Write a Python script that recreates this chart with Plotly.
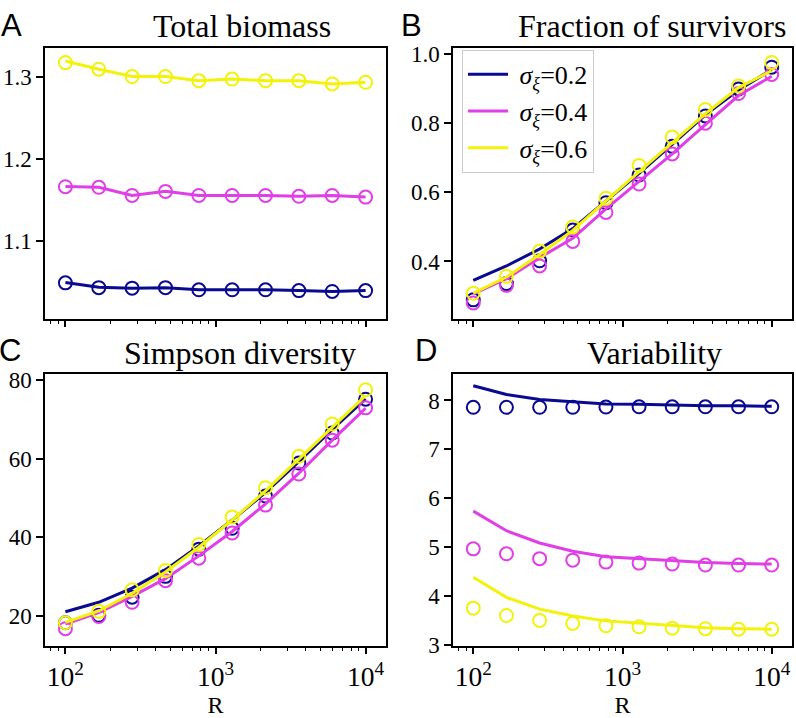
import numpy as np
import plotly.graph_objects as go

R = [100, 166.8, 278.3, 464.2, 774.3, 1291.5, 2154.4, 3593.8, 5994.8, 10000]
sigmas = ["0.2", "0.4", "0.6"]
colors = ["#0a0a90", "#e03ee6", "#f2f20a"]

# Panel A: Total biomass (points, theory lines)
biomass_pts = [
    [1.0495, 1.0436, 1.043, 1.0436, 1.041, 1.041, 1.041, 1.040, 1.039, 1.040],
    [1.1667, 1.166, 1.156, 1.161, 1.156, 1.156, 1.156, 1.155, 1.156, 1.154],
    [1.318, 1.310, 1.301, 1.301, 1.296, 1.298, 1.296, 1.296, 1.292, 1.294],
]
biomass_line = [
    [1.050, 1.044, 1.043, 1.0435, 1.041, 1.041, 1.041, 1.040, 1.039, 1.040],
    [1.167, 1.166, 1.156, 1.161, 1.156, 1.156, 1.156, 1.155, 1.156, 1.154],
    [1.320, 1.310, 1.301, 1.301, 1.296, 1.298, 1.296, 1.296, 1.292, 1.294],
]
# Panel B: Fraction of survivors
surv_pts = [
    [0.289, 0.336, 0.402, 0.491, 0.570, 0.650, 0.733, 0.821, 0.899, 0.962],
    [0.280, 0.331, 0.387, 0.458, 0.542, 0.624, 0.711, 0.800, 0.886, 0.941],
    [0.308, 0.357, 0.430, 0.500, 0.583, 0.678, 0.760, 0.840, 0.908, 0.976],
]
surv_line = [
    [0.345, 0.387, 0.436, 0.495, 0.575, 0.655, 0.739, 0.824, 0.896, 0.955],
    [0.306, 0.350, 0.411, 0.467, 0.552, 0.631, 0.711, 0.796, 0.880, 0.936],
    [0.308, 0.355, 0.420, 0.490, 0.575, 0.660, 0.744, 0.828, 0.903, 0.952],
]
# Panel C: Simpson diversity
simp_pts = [
    [18.3, 20.2, 24.8, 30.1, 37.0, 42.3, 50.5, 58.9, 66.5, 75.1],
    [16.8, 19.9, 23.5, 29.0, 34.7, 41.1, 48.2, 56.1, 64.7, 72.9],
    [18.3, 21.2, 26.7, 31.6, 38.2, 45.2, 52.6, 60.6, 68.8, 77.5],
]
simp_line = [
    [21.1, 23.5, 27.1, 31.8, 37.8, 44.4, 51.4, 59.2, 67.4, 75.2],
    [18.0, 20.9, 25.0, 29.5, 35.3, 41.5, 48.5, 56.3, 64.7, 72.8],
    [18.4, 21.3, 25.8, 31.2, 37.5, 44.4, 51.8, 59.8, 68.0, 76.0],
]
# Panel D: Variability
var_pts = [
    [7.86, 7.86, 7.86, 7.86, 7.865, 7.87, 7.87, 7.87, 7.87, 7.87],
    [4.97, 4.87, 4.77, 4.74, 4.70, 4.68, 4.66, 4.64, 4.64, 4.64],
    [3.76, 3.61, 3.51, 3.45, 3.40, 3.38, 3.35, 3.34, 3.33, 3.33],
]
var_line = [
    [8.30, 8.12, 8.02, 7.97, 7.93, 7.92, 7.90, 7.89, 7.89, 7.88],
    [5.74, 5.34, 5.09, 4.92, 4.81, 4.77, 4.72, 4.69, 4.67, 4.66],
    [4.39, 3.98, 3.74, 3.60, 3.50, 3.45, 3.40, 3.36, 3.34, 3.33],
]

titles = ["Total biomass", "Fraction of survivors", "Simpson diversity", "Variability"]
letters = ["A", "B", "C", "D"]
panels = [(biomass_pts, biomass_line), (surv_pts, surv_line),
          (simp_pts, simp_line), (var_pts, var_line)]
yranges = [[1.006, 1.336], [0.235, 1.018], [12.5, 81.5], [2.995, 8.54]]
ytickvals = [[1.1, 1.2, 1.3], [0.4, 0.6, 0.8, 1.0], [20, 40, 60, 80], [3, 4, 5, 6, 7, 8]]
yformats = [".1f", ".1f", "d", "d"]

W, H = 796, 718
boxes = [  # left, right, top, bottom in px
    (45, 386, 43, 321),
    (453, 792, 43, 321),
    (45, 386, 378, 657),
    (453, 792, 378, 657),
]

SERIF = "Liberation Serif"
fig = go.Figure()
layout = dict(width=W, height=H, margin=dict(l=0, r=0, t=0, b=0),
              paper_bgcolor="white", plot_bgcolor="white", autosize=False,
              font=dict(family=SERIF, size=22, color="black"))

for i, (pts, lines) in enumerate(panels):
    xa = "x" if i == 0 else f"x{i+1}"
    ya = "y" if i == 0 else f"y{i+1}"
    for k in range(3):
        fig.add_trace(go.Scatter(
            x=R, y=pts[k], xaxis=xa, yaxis=ya, mode="markers",
            marker=dict(symbol="circle-open", size=13, color=colors[k],
                        line=dict(width=2, color=colors[k])),
            showlegend=False, hoverinfo="skip"))
        fig.add_trace(go.Scatter(
            x=R, y=lines[k], xaxis=xa, yaxis=ya, mode="lines",
            line=dict(color=colors[k], width=3),
            name=f" <i>σ</i><sub><i>ξ</i></sub>={sigmas[k]}",
            showlegend=(i == 1)))
    l, r, t, b = boxes[i]
    xkey = "xaxis" if i == 0 else f"xaxis{i+1}"
    ykey = "yaxis" if i == 0 else f"yaxis{i+1}"
    xa_dict = dict(
        type="log", range=[1.864, 4.136], domain=[l / W, r / W], anchor=ya,
        showline=True, mirror=True, linecolor="black", linewidth=1.5,
        showgrid=False, zeroline=False, ticks="outside", ticklen=7, tickwidth=1.5,
        tickcolor="black", dtick=1, exponentformat="power",
        showticklabels=(i >= 2), tickfont=dict(family=SERIF, size=22),
        minor=dict(ticks="outside", ticklen=4, tickwidth=1, tickcolor="black",
                   dtick="D1", showgrid=False),
    )
    if i >= 2:
        xa_dict["title"] = dict(text="R", font=dict(family=SERIF, size=24), standoff=2)
    layout[xkey] = xa_dict
    layout[ykey] = dict(
        range=yranges[i], domain=[1 - b / H, 1 - t / H], anchor=xa,
        showline=True, mirror=True, linecolor="black", linewidth=1.5,
        showgrid=False, zeroline=False, ticks="outside", ticklen=7, tickwidth=1.5,
        tickcolor="black", tickvals=ytickvals[i], tickformat=yformats[i],
        tickfont=dict(family=SERIF, size=23),
    )

annotations = []
title_cx = [242, 652, 240, 654]
title_cy = [21, 21, 356, 356]
letter_pos = [(11, 20), (411, 20), (10, 354), (426, 354)]
for i in range(4):
    annotations.append(dict(
        text=titles[i], x=title_cx[i] / W, y=1 - title_cy[i] / H, xref="paper", yref="paper",
        xanchor="center", yanchor="middle", showarrow=False,
        font=dict(family=SERIF, size=32, color="black")))
    lx, ly = letter_pos[i]
    annotations.append(dict(
        text=letters[i], x=lx / W, y=1 - ly / H, xref="paper", yref="paper",
        xanchor="center", yanchor="middle", showarrow=False,
        font=dict(family="Liberation Sans", size=31, color="black")))
layout["annotations"] = annotations
layout["legend"] = dict(
    x=462 / W, y=1 - 45 / H, xanchor="left", yanchor="top",
    bordercolor="#cccccc", borderwidth=1, bgcolor="rgba(255,255,255,0.8)",
    font=dict(family=SERIF, size=26), itemwidth=40, tracegroupgap=0)

fig.update_layout(**layout)
fig.write_html(
    "out.html",
    config={"displayModeBar": False},
    post_script="document.body.style.margin='0';document.body.style.overflow='hidden';",
)
